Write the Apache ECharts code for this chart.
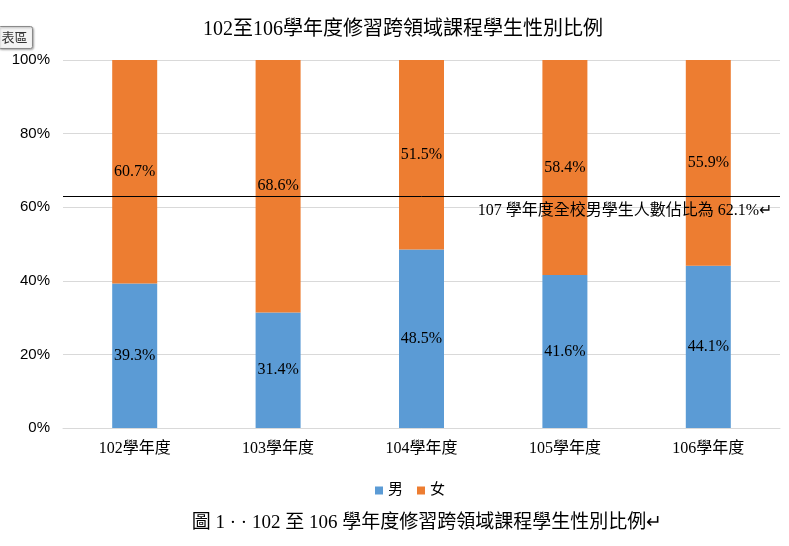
<!DOCTYPE html>
<html>
<head>
<meta charset="utf-8">
<script src="https://cdn.jsdelivr.net/npm/echarts@6/dist/echarts.min.js"></script>
<style>
  html, body { margin: 0; padding: 0; background: #fff; }
  #chart { width: 789px; height: 546px; }
</style>
</head>
<body>
<div id="chart"></div>
<script>
const years = ['102學年度', '103學年度', '104學年度', '105學年度', '106學年度']
const male = [39.3, 31.4, 48.5, 41.6, 44.1]
const female = [60.7, 68.6, 51.5, 58.4, 55.9]
const yTicks = [0, 20, 40, 60, 80, 100]
// 全校男學生比例參考線 (畫面位置約 63%)
const schoolLine = 63
const schoolLineText = '107 學年度全校男學生人數佔比為 62.1%↵'

const serif = '"Liberation Serif", "Noto Sans CJK TC", serif'

let chart = echarts.init(document.getElementById('chart'))
let labelStyle = {
  show: true,
  position: 'inside',
  color: '#000',
  fontFamily: serif,
  fontSize: 16,
  formatter: p => p.value.toFixed(1) + '%',
}
let option = {
  animation: false,
  title: {
    text: '102至106學年度修習跨領域課程學生性別比例',
    left: 398,
    textAlign: 'center',
    top: 15,
    textStyle: { fontFamily: serif, fontSize: 20, fontWeight: 'normal', color: '#000' },
  },
  grid: { top: 60, left: 63, right: 9, bottom: 118 },
  legend: {
    data: ['男', '女'],
    left: 370,
    top: 478,
    itemWidth: 8,
    itemHeight: 8,
    itemGap: 14,
    icon: 'rect',
    textStyle: { fontFamily: serif, fontSize: 15, color: '#000' },
  },
  xAxis: {
    type: 'category',
    data: years,
    axisLine: { lineStyle: { color: '#d9d9d9' } },
    axisTick: { show: false },
    axisLabel: { color: '#000', fontFamily: serif, fontSize: 16, margin: 13 },
  },
  yAxis: {
    type: 'value',
    min: yTicks[0],
    max: yTicks[yTicks.length - 1],
    interval: 20,
    axisLine: { show: false },
    axisTick: { show: false },
    splitLine: { lineStyle: { color: '#d9d9d9' } },
    axisLabel: {
      color: '#000',
      fontFamily: '"Liberation Sans", Arial, sans-serif',
      fontSize: 15,
      margin: 13,
      formatter: v => v + '%',
    },
  },
  series: [
    {
      name: '男',
      type: 'bar',
      stack: 'all',
      data: male,
      barWidth: 45,
      itemStyle: { color: '#5b9bd5' },
      label: labelStyle,
    },
    {
      name: '女',
      type: 'bar',
      stack: 'all',
      data: female,
      barWidth: 45,
      itemStyle: { color: '#ed7d31' },
      label: labelStyle,
      markLine: {
        silent: true,
        symbol: 'none',
        lineStyle: { color: '#000', width: 1, type: 'solid' },
        data: [{ yAxis: schoolLine }],
        label: {
          position: 'insideEndBottom',
          distance: [8, 7],
          color: '#000',
          fontFamily: serif,
          fontSize: 16,
          formatter: schoolLineText,
        },
      },
    },
  ],
  graphic: [
    {
      type: 'group',
      left: -2,
      top: 26,
      children: [
        {
          type: 'rect',
          shape: { x: 0, y: 0, width: 34, height: 22, r: 2 },
          style: { fill: '#f4f4f4', stroke: '#8a8a8a', lineWidth: 1, shadowBlur: 2, shadowOffsetX: 1, shadowOffsetY: 1, shadowColor: 'rgba(0,0,0,0.3)' },
        },
        {
          type: 'text',
          x: 3,
          y: 4,
          style: { text: '表區', fontFamily: '"Noto Sans CJK TC", sans-serif', fontSize: 13, fill: '#333' },
        },
      ],
    },
    {
      type: 'text',
      x: 427,
      y: 514,
      style: {
        text: '圖 1 · · 102 至 106 學年度修習跨領域課程學生性別比例↵',
        align: 'center',
        fontFamily: serif,
        fontSize: 19,
        fill: '#000',
      },
    },
  ],
}
chart.setOption(option)
</script>
</body>
</html>
